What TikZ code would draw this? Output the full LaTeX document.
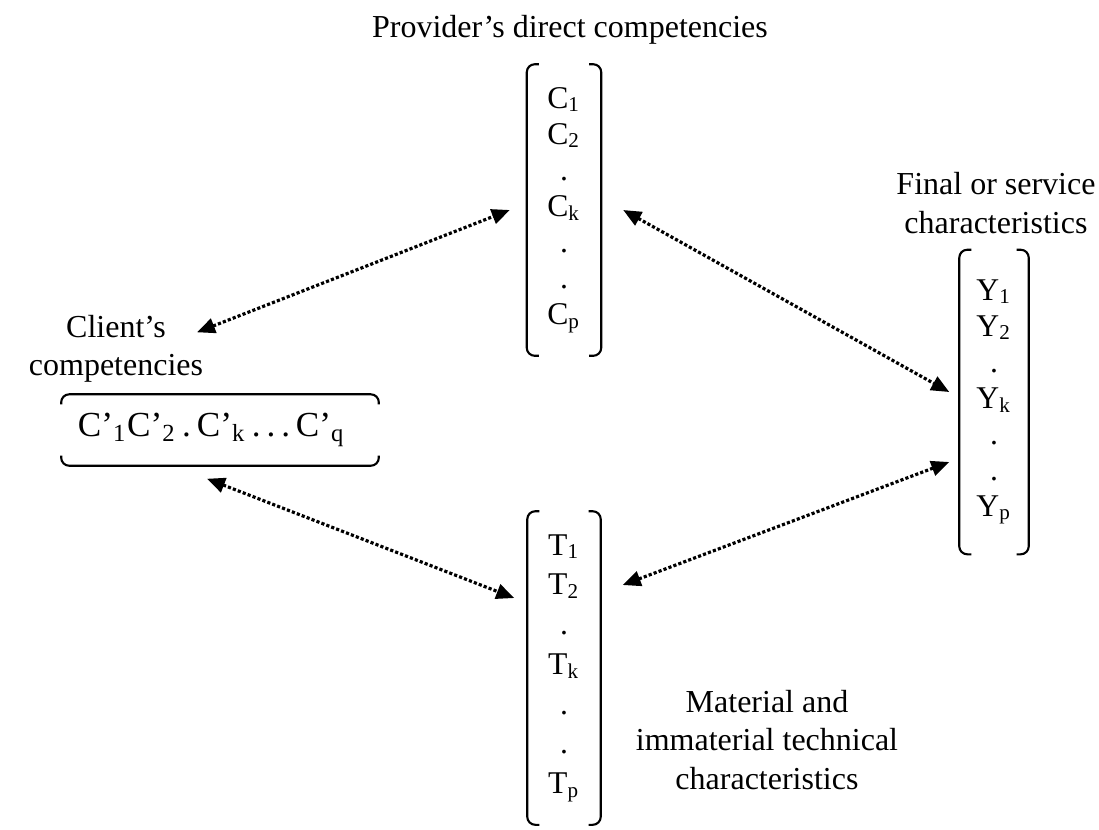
\documentclass[tikz,border=0pt]{standalone}
\usepackage{fontspec}
\setmainfont{Liberation Serif}
\usetikzlibrary{arrows.meta,calc}

\tikzset{
  link/.style={line width=0.9pt, dash pattern=on 0.9pt off 0.6pt,
    {Triangle[length=0.18cm,width=0.15cm]}-{Triangle[length=0.18cm,width=0.15cm]}},
  stack/.style={align=center, inner sep=0pt},
  brk/.style={line width=0.6pt, rounded corners=0.08cm},
  lbl/.style={align=center, font=\fontsize{9.1}{10.9}\selectfont}
}
\newcommand{\parens}[1]{%
  \draw[brk] ($(#1.north west)+(12,0)$) -- (#1.north west) -- (#1.south west) -- ++(12,0);
  \draw[brk] ($(#1.north east)+(-12,0)$) -- (#1.north east) -- (#1.south east) -- ++(-12,0);}

\begin{document}
\begin{tikzpicture}[x=0.01cm, y=-0.01cm]
\useasboundingbox (0,0) rectangle (1099,829);

% labels
\node[lbl] (provlbl) at (570,30) {Provider’s direct competencies};
\node[lbl] (finlbl) at (996,203) {Final or service\\characteristics};
\node[lbl] (clilbl) at (116,349) {Client’s\\competencies};
\node[lbl] (matlbl) at (767,740) {Material and\\immaterial technical\\characteristics};

% the four groups
\node[stack, minimum width=0.73cm, minimum height=2.9cm, font=\fontsize{9}{10.24}\selectfont]
  (prov) at (564,210) {C\textsubscript{1}\\C\textsubscript{2}\\.\\C\textsubscript{k}\\.\\.\\C\textsubscript{p}};
\node[stack, minimum width=0.68cm, minimum height=3.03cm, font=\fontsize{9}{10.24}\selectfont]
  (fin) at (994,402) {Y\textsubscript{1}\\Y\textsubscript{2}\\.\\Y\textsubscript{k}\\.\\.\\Y\textsubscript{p}};
\node[stack, minimum width=0.72cm, minimum height=3.12cm, font=\fontsize{9}{11.3}\selectfont]
  (mat) at (564,668) {T\textsubscript{1}\\T\textsubscript{2}\\.\\T\textsubscript{k}\\.\\.\\T\textsubscript{p}};
\node[align=left, text width=2.84cm, inner xsep=0.16cm, inner ysep=0pt, minimum height=0.7cm,
  font=\fontsize{10}{12}\selectfont]
  (cli) at (220,430) {C’\textsubscript{1}C’\textsubscript{2}\,.\,C’\textsubscript{k}\,.\,.\,.\,C’\textsubscript{q}};

\parens{prov}
\parens{fin}
\parens{mat}
\draw[brk] ($(cli.north west)+(0,10)$) -- (cli.north west) -- (cli.north east) -- ++(0,10);
\draw[brk] ($(cli.south west)+(0,-10)$) -- (cli.south west) -- (cli.south east) -- ++(0,-10);

% links
\draw[link] ($(cli.north)+(-23,-62)$) -- ($(prov.west)+(-17,0)$);
\draw[link] ($(prov.east)+(22,0)$) -- ($(fin.west)+(-10,-10)$);
\draw[link] ($(cli.south)+(-13,13)$) -- ($(mat.west)+(-13,-70)$);
\draw[link] ($(mat.east)+(22,-83)$) -- ($(fin.west)+(-10,60)$);
\end{tikzpicture}
\end{document}
